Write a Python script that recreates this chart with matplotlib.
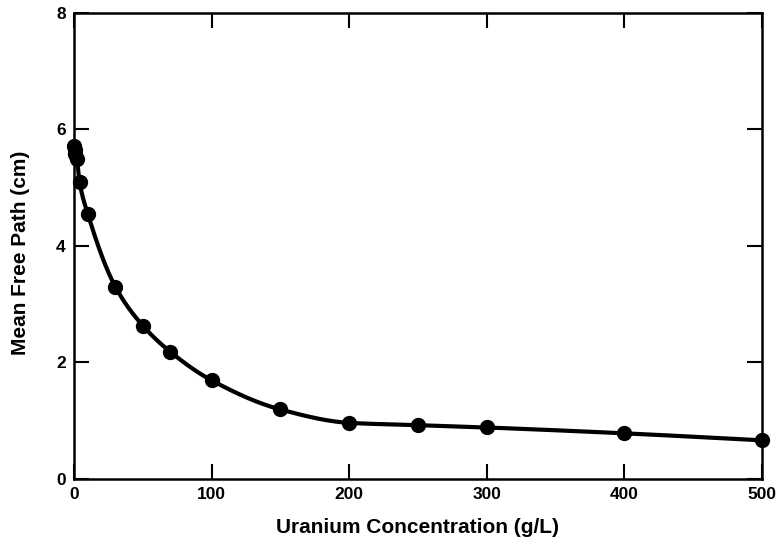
import numpy as np
import matplotlib.pyplot as plt

# Uranium concentration (g/L) vs mean free path (cm)
conc = [0, 0.5, 1, 2, 4, 10, 30, 50, 70, 100, 150, 200, 250, 300, 400, 500]
mfp = [5.72, 5.65, 5.58, 5.50, 5.10, 4.55, 3.30, 2.63, 2.18, 1.69, 1.19, 0.96, 0.92, 0.88, 0.78, 0.66]

x_ticks = [0, 100, 200, 300, 400, 500]
y_ticks = [0, 2, 4, 6, 8]


def pchip(x, y, xs):
    """Monotone cubic (Fritsch-Carlson) used only to draw a smooth line"""
    x = np.asarray(x, float)
    y = np.asarray(y, float)
    h = np.diff(x)
    d = np.diff(y) / h
    m = np.zeros_like(y)
    for k in range(1, len(x) - 1):
        if d[k - 1] * d[k] > 0:
            w1 = 2 * h[k] + h[k - 1]
            w2 = h[k] + 2 * h[k - 1]
            m[k] = (w1 + w2) / (w1 / d[k - 1] + w2 / d[k])
    m[0] = d[0]
    m[-1] = d[-1]
    idx = np.clip(np.searchsorted(x, xs) - 1, 0, len(x) - 2)
    t = (xs - x[idx]) / h[idx]
    h00 = 2 * t**3 - 3 * t**2 + 1
    h10 = t**3 - 2 * t**2 + t
    h01 = -2 * t**3 + 3 * t**2
    h11 = t**3 - t**2
    return h00 * y[idx] + h10 * h[idx] * m[idx] + h01 * y[idx + 1] + h11 * h[idx] * m[idx + 1]


plt.rcParams['font.family'] = ['Liberation Sans', 'DejaVu Sans']

fig = plt.figure(figsize=(7.79, 5.44), dpi=100)
ax = fig.add_axes([0.095, 0.12, 0.883, 0.856])

xs = np.linspace(0, 500, 2000)
ax.plot(xs, pchip(conc, mfp, xs), color='black', linewidth=3, zorder=2, clip_on=False)
ax.plot(conc, mfp, 'o', color='black', markersize=10, zorder=3, clip_on=False)

ax.set_xlim(0, 500)
ax.set_ylim(0, 8)
ax.set_xticks(x_ticks)
ax.set_yticks(y_ticks)
ax.tick_params(direction='in', length=11, width=1.5, top=True, right=True,
               labelsize=12.5, pad=6)
for lab in ax.get_xticklabels() + ax.get_yticklabels():
    lab.set_fontweight('bold')
for s in ax.spines.values():
    s.set_linewidth(1.8)

ax.set_xlabel('Uranium Concentration (g/L)', fontsize=15, fontweight='bold')
ax.set_ylabel('Mean Free Path (cm)', fontsize=15, fontweight='bold')
ax.xaxis.set_label_coords(0.5, -0.084)
ax.yaxis.set_label_coords(-0.064, 0.485)

plt.savefig('out.png', dpi=100)
